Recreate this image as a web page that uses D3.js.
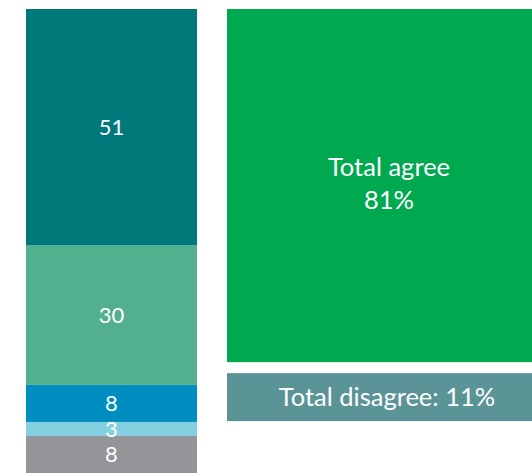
<!DOCTYPE html>
<html>
<head>
<meta charset="utf-8">
<script src="https://cdn.jsdelivr.net/npm/d3@7"></script>
<style>
    body { margin: 0; background: #fff; }
    svg { display: block; font-family: "Source Sans Pro", Lato, sans-serif; }
</style>
</head>
<body>
<svg id="chart" width="532" height="473"></svg>
<script>
var categories = ['Strongly agree', 'Agree', 'Neither', 'Disagree', "Don't know"];
var values = [51, 30, 8, 3, 8];
var colors = ['#00797a', '#52b08e', '#008ec0', '#82d0e0', '#939598'];

var totals = ['Total agree', 'Total disagree'];
var totalValues = [81, 11];
var totalColors = ['#00a950', '#5b9497'];

function drawStack (svg) {
    var y = d3.scaleLinear().domain([0, 100]).range([9, 473]);
    var data = [];
    var start = 0;
    var i = 0;

    while (i < values.length) {
        data.push({ name: categories[i], v: values[i], y0: start, y1: start + values[i], c: colors[i] });
        start += values[i];
        i++;
    }

    var g = svg.append('g');

    g.selectAll('rect')
        .data(data)
        .enter().append('rect')
        .attr('x', 26)
        .attr('width', 171)
        .attr('y', function (d) { return y(d.y0); })
        .attr('height', function (d) { return y(d.y1) - y(d.y0); })
        .style('fill', function (d) { return d.c; });

    g.selectAll('text')
        .data(data)
        .enter().append('text')
        .attr('x', 111.5)
        .attr('y', function (d) { return (y(d.y0) + y(d.y1)) / 2; })
        .attr('dy', '0.36em')
        .attr('text-anchor', 'middle')
        .style('fill', '#fff')
        .style('font-size', '22px')
        .text(function (d) { return d.v; });
}

function drawTotals (svg) {
    // one scale for both boxes
    var h = d3.scaleLinear().domain([0, 100]).range([0, 436]);
    var top = 9;
    var gap = 11;
    var agreeH = h(totalValues[0]);
    var disH = h(totalValues[1]);

    svg.append('rect')
        .attr('x', 227).attr('y', top)
        .attr('width', 323).attr('height', agreeH)
        .style('fill', totalColors[0]);

    var t = svg.append('text')
        .attr('x', 389)
        .attr('text-anchor', 'middle')
        .style('fill', '#fff')
        .style('font-size', '25.5px');
    t.append('tspan').attr('x', 389).attr('y', top + agreeH / 2 - 10).text(totals[0]);
    t.append('tspan').attr('x', 389).attr('y', top + agreeH / 2 + 23).text(totalValues[0] + '%');

    var y2 = top + agreeH + gap;
    svg.append('rect')
        .attr('x', 227).attr('y', y2)
        .attr('width', 323).attr('height', disH)
        .style('fill', totalColors[1]);

    svg.append('text')
        .attr('x', 387)
        .attr('y', y2 + disH / 2)
        .attr('dy', '0.36em')
        .attr('text-anchor', 'middle')
        .style('fill', '#fff')
        .style('font-size', '25.5px')
        .text(totals[1] + ': ' + totalValues[1] + '%');
}

var svg = d3.select('#chart');
drawStack(svg);
drawTotals(svg);
</script>
</body>
</html>
